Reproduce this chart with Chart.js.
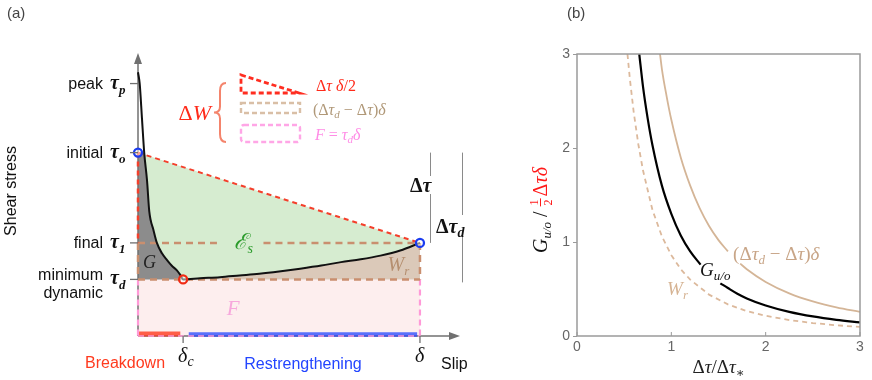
<!DOCTYPE html>
<html>
<head>
<meta charset="utf-8">
<title>Slip-weakening energy budget</title>
<script src="https://cdn.jsdelivr.net/npm/chart.js@4.4.1/dist/chart.umd.min.js"></script>
<style>
  body { margin: 0; background: #fff; }
  #panelA { position: absolute; left: 0; top: 0; }
  #panelB { position: absolute; left: 520px; top: 0; }
</style>
</head>
<body>
<canvas id="panelA" width="520" height="380"></canvas>
<canvas id="panelB" width="352" height="380"></canvas>
<script>
const SANS = '"Liberation Sans", Arial, sans-serif';
const SERIF = '"Liberation Serif", "DejaVu Serif", serif';

// ----------------------------
// (a) shear stress vs slip
// ----------------------------
const slipCurve   = [0, 0.006, 0.014, 0.022, 0.032, 0.040, 0.055, 0.067, 0.085, 0.103, 0.12, 0.138, 0.15, 0.16,
                     0.22, 0.29, 0.36, 0.43, 0.50, 0.575, 0.65, 0.72, 0.79, 0.86, 0.93, 1.0];
const stressCurve = [4.66, 4.46, 3.85, 3.24, 2.75, 2.20, 1.87, 1.645, 1.46, 1.34, 1.24, 1.16, 1.08, 1.0,
                     1.02, 1.04, 1.07, 1.10, 1.14, 1.19, 1.245, 1.305, 1.355, 1.42, 1.51, 1.645];
const stressTicks = [4.46, 3.24, 1.645, 1.0];            // tau_p, tau_o, tau_1, tau_d
const stressTickWords = [['peak'], ['initial'], ['final'], ['minimum', 'dynamic']];
const stressTickSubs = ['p', 'o', '1', 'd'];
const slipTicks = [0.16, 1.0];                            // delta_c, delta
const slipTickSubs = ['c', ''];
const tau1Gap = [0.28, 0.445];                            // where the E_s label cuts the tau_1 dashes

// ----------------------------
// (b) normalised energies vs stress drop ratio
// ----------------------------
const ratioTicks = [0, 1, 2, 3];
const guoX = [0.66, 0.7, 0.75, 0.8, 0.9, 1.0, 1.1, 1.2, 1.31, null, 1.52, 1.6, 1.7, 1.8, 2.0, 2.25, 2.5, 2.75, 3.0];
const guoY = [3.0, 2.65, 2.31, 2.03, 1.60, 1.30, 1.07, 0.90, 0.76, null, 0.56, 0.51, 0.45, 0.40, 0.325, 0.257, 0.208, 0.172, 0.145];
const dropX = [0.88, 0.9, 0.95, 1.0, 1.1, 1.2, 1.3, 1.4, 1.5, 1.6, null, 1.73, 1.8, 2.0, 2.25, 2.5, 2.75, 3.0];
const dropY = [3.0, 2.84, 2.55, 2.30, 1.90, 1.60, 1.36, 1.17, 1.02, 0.90, null, 0.77, 0.71, 0.575, 0.454, 0.368, 0.304, 0.256];
const wrX = [0.535, 0.56, 0.6, 0.65, 0.7, 0.8, 0.9, 1.0, 1.1, 1.2, 1.4, 1.6, 1.8, 2.0, 2.25, 2.5, 2.75, 3.0];
const wrY = [3.0, 2.74, 2.39, 2.04, 1.76, 1.34, 1.06, 0.86, 0.71, 0.60, 0.44, 0.336, 0.265, 0.215, 0.17, 0.138, 0.114, 0.096];

const RED = '#f43f2b', TAN = '#c98f6f', PINK = '#ff9ad8', AXIS = '#707070';
const BLUE_PT = '#1b3cf0', BREAK = '#ff3a1e', RESTR = '#2345ff';

const pt = (x, y) => ({ x, y });

function drawRuns(ctx, parts, x, y, align) {
  let w = 0;
  parts.forEach(p => { ctx.font = p[1]; w += ctx.measureText(p[0]).width; });
  let cx = align === 'right' ? x - w : align === 'center' ? x - w / 2 : x;
  ctx.textAlign = 'left';
  ctx.textBaseline = 'alphabetic';
  parts.forEach(p => {
    ctx.font = p[1];
    ctx.fillStyle = p[2];
    ctx.fillText(p[0], cx, y + (p[3] || 0));
    cx += ctx.measureText(p[0]).width;
  });
  return cx;
}

function seg(ctx, x1, y1, x2, y2) {
  ctx.beginPath(); ctx.moveTo(x1, y1); ctx.lineTo(x2, y2); ctx.stroke();
}

// ---------- panel (a) datasets ----------
const tauP = stressTicks[0], tauO = stressTicks[1], tau1 = stressTicks[2], tauD = stressTicks[3];
const deltaC = slipTicks[0], delta = slipTicks[1];
const curvePts = slipCurve.map((s, i) => pt(s, stressCurve[i]));
const iO = stressCurve.indexOf(tauO);
const iC = slipCurve.indexOf(deltaC);

const polyF = [pt(0, 0), pt(delta, 0), pt(delta, tauD), pt(0, tauD)];
const polyW = [...curvePts.slice(iC), pt(delta, tauD)];
const polyE = [...curvePts.slice(iO), pt(0, tauO)];
const polyG = [pt(0, tauO), ...curvePts.slice(iO, iC + 1), pt(0, tauD)];

const lineSet = (data, color, width, dash, order) => ({
  data, showLine: true, borderColor: color, borderWidth: width, borderDash: dash || [],
  pointRadius: 0, fill: false, order, clip: false, tension: 0, spanGaps: false
});
const areaSet = (data, color, order) => ({
  data, showLine: true, fill: 'shape', backgroundColor: color,
  borderColor: 'rgba(0,0,0,0)', borderWidth: 0, pointRadius: 0, order
});

const annotateA = {
  id: 'annotateA',
  afterDraw(chart) {
    const ctx = chart.ctx, xs = chart.scales.x, ys = chart.scales.y;
    const X = v => xs.getPixelForValue(v), Y = v => ys.getPixelForValue(v);
    ctx.save();

    // arrow heads
    ctx.fillStyle = AXIS;
    ctx.beginPath();
    ctx.moveTo(X(0), ys.top); ctx.lineTo(X(0) - 4, ys.top + 11); ctx.lineTo(X(0) + 4, ys.top + 11);
    ctx.closePath(); ctx.fill();
    ctx.beginPath();
    ctx.moveTo(xs.right, Y(0)); ctx.lineTo(xs.right - 11, Y(0) - 4); ctx.lineTo(xs.right - 11, Y(0) + 4);
    ctx.closePath(); ctx.fill();

    // tick marks
    ctx.strokeStyle = AXIS; ctx.lineWidth = 1.3;
    stressTicks.forEach(v => seg(ctx, X(0) - 8, Y(v), X(0), Y(v)));
    slipTicks.forEach(v => seg(ctx, X(v), Y(0), X(v), Y(0) + 7));

    // stress tick labels
    stressTicks.forEach((v, i) => {
      const py = Y(v), words = stressTickWords[i];
      ctx.font = '16px ' + SANS; ctx.fillStyle = '#111'; ctx.textAlign = 'right'; ctx.textBaseline = 'alphabetic';
      if (words.length === 1) ctx.fillText(words[0], 103, py + 5);
      else { ctx.fillText(words[0], 103, py + 1); ctx.fillText(words[1], 103, py + 19); }
      drawRuns(ctx, [['τ', 'italic bold 20px ' + SERIF, '#111', 0],
                     [stressTickSubs[i], 'italic bold 13px ' + SERIF, '#111', 5]], 110, py + 5, 'left');
    });

    // slip tick labels
    slipTicks.forEach((v, i) => {
      drawRuns(ctx, [['δ', 'italic 20px ' + SERIF, '#111', 0],
                     [slipTickSubs[i], 'italic 14px ' + SERIF, '#111', 4]], X(v) - 5, 362, 'left');
    });
    ctx.font = '16px ' + SANS; ctx.textAlign = 'center';
    ctx.fillStyle = BREAK; ctx.fillText('Breakdown', 125, 368);
    ctx.fillStyle = RESTR; ctx.fillText('Restrengthening', 303, 369);
    ctx.fillStyle = '#111'; ctx.textAlign = 'left'; ctx.fillText('Slip', 441, 369);

    ctx.save();
    ctx.translate(12, 191); ctx.rotate(-Math.PI / 2);
    ctx.textAlign = 'center'; ctx.textBaseline = 'middle'; ctx.fillStyle = '#111';
    ctx.fillText('Shear stress', 0, 0);
    ctx.restore();

    ctx.font = '15px ' + SANS; ctx.fillStyle = '#444'; ctx.textAlign = 'left'; ctx.textBaseline = 'alphabetic';
    ctx.fillText('(a)', 7, 18);

    // area labels
    drawRuns(ctx, [['G', 'italic 18px ' + SERIF, '#222', 0]], X(0.018), Y(tauD) - 11, 'left');
    drawRuns(ctx, [['ℰ', 'italic 22px ' + SERIF, '#2b9b2b', 0], ['s', 'italic 14px ' + SERIF, '#2b9b2b', 4]],
             X(0.342), Y(tau1) + 6, 'left');
    drawRuns(ctx, [['F', 'italic 21px ' + SERIF, '#f7a8dc', 0]], X(0.315), Y(tauD) + 36, 'left');
    drawRuns(ctx, [['W', 'italic 20px ' + SERIF, '#b58f70', 0], ['r', 'italic 13px ' + SERIF, '#b58f70', 4]],
             X(0.885), Y(tauD) - 8, 'left');

    // stress drop brackets
    ctx.strokeStyle = '#8a8a8a'; ctx.lineWidth = 1;
    seg(ctx, 430.5, Y(tauO), 430.5, 176); seg(ctx, 430.5, 194, 430.5, Y(tau1));
    seg(ctx, 462.5, Y(tauO), 462.5, 215); seg(ctx, 462.5, 237, 462.5, Y(tauD) + 3);
    drawRuns(ctx, [['Δ', 'bold 20px ' + SERIF, '#111', 0], ['τ', 'italic bold 20px ' + SERIF, '#111', 0]], 410, 192, 'left');
    drawRuns(ctx, [['Δ', 'bold 20px ' + SERIF, '#111', 0], ['τ', 'italic bold 20px ' + SERIF, '#111', 0],
                   ['d', 'italic bold 14px ' + SERIF, '#111', 4]], 436, 233, 'left');

    // energy key
    drawRuns(ctx, [['Δ', '22px ' + SERIF, '#ff2a1a', 0], ['W', 'italic 22px ' + SERIF, '#ff2a1a', 0]], 211, 120, 'right');
    ctx.strokeStyle = '#f4846c'; ctx.lineWidth = 2; ctx.setLineDash([]);
    const bx = 220, bt = 83, bb = 142, bm = (bt + bb) / 2;
    ctx.beginPath();
    ctx.moveTo(bx + 6, bt); ctx.quadraticCurveTo(bx, bt, bx, bt + 8);
    ctx.lineTo(bx, bm - 6); ctx.quadraticCurveTo(bx, bm, bx - 6, bm);
    ctx.quadraticCurveTo(bx, bm, bx, bm + 6); ctx.lineTo(bx, bb - 8);
    ctx.quadraticCurveTo(bx, bb, bx + 6, bb);
    ctx.stroke();

    ctx.lineWidth = 2.8; ctx.strokeStyle = '#ff2d20'; ctx.setLineDash([5, 3]);
    ctx.beginPath(); ctx.moveTo(241, 75); ctx.lineTo(299, 93); ctx.lineTo(241, 93); ctx.closePath(); ctx.stroke();
    ctx.lineWidth = 2.4; ctx.strokeStyle = '#d9bfa6';
    ctx.strokeRect(241, 103, 59, 10);
    ctx.strokeStyle = '#ffa6e6';
    ctx.beginPath(); ctx.roundRect(241, 125, 59, 17, 3); ctx.stroke();
    ctx.setLineDash([]);

    const kRed = '#ff2a1a', kTan = '#b09878', kPink = '#ff8ce6';
    drawRuns(ctx, [['Δ', '16px ' + SERIF, kRed], ['τ', 'italic 16px ' + SERIF, kRed], [' δ', 'italic 16px ' + SERIF, kRed],
                   ['/2', '16px ' + SERIF, kRed]], 316, 91, 'left');
    drawRuns(ctx, [['(Δ', '16px ' + SERIF, kTan], ['τ', 'italic 16px ' + SERIF, kTan], ['d', 'italic 11px ' + SERIF, kTan, 3],
                   [' − Δ', '16px ' + SERIF, kTan], ['τ', 'italic 16px ' + SERIF, kTan], [')', '16px ' + SERIF, kTan],
                   ['δ', 'italic 16px ' + SERIF, kTan]], 313, 115, 'left');
    drawRuns(ctx, [['F', 'italic 16px ' + SERIF, kPink], [' = ', '16px ' + SERIF, kPink], ['τ', 'italic 16px ' + SERIF, kPink],
                   ['d', 'italic 11px ' + SERIF, kPink, 3], ['δ', 'italic 16px ' + SERIF, kPink]], 315, 140, 'left');
    ctx.restore();
  }
};

new Chart(document.getElementById('panelA'), {
  type: 'scatter',
  data: {
    datasets: [
      areaSet(polyF, '#fdeeee', 30),
      areaSet(polyW, '#dbc9b9', 29),
      areaSet(polyE, '#d6ecd0', 28),
      areaSet(polyG, '#8c8c8c', 27),
      lineSet([pt(0, 0), pt(0, 4.85)], AXIS, 1.5, null, 20),
      lineSet([pt(0, 0), pt(1.12, 0)], AXIS, 1.5, null, 20),
      lineSet([pt(0, 0.035), pt(deltaC - 0.01, 0.035)], 'rgba(255,58,30,0.8)', 5, null, 18),
      lineSet([pt(deltaC + 0.02, 0.025), pt(delta - 0.01, 0.025)], 'rgba(35,69,255,0.75)', 4.5, null, 18),
      lineSet([pt(0, tauO), pt(delta, tau1)], RED, 2, [5, 4], 10),
      lineSet([pt(0, tauO), pt(0, tau1)], RED, 2.5, [5, 4], 10),
      lineSet([pt(0, tau1), pt(tau1Gap[0], tau1), { x: 0.36, y: null }, pt(tau1Gap[1], tau1), pt(delta, tau1)], TAN, 2.5, [7, 5], 10),
      lineSet([pt(0, tauD), pt(delta, tauD)], TAN, 2.5, [7, 5], 10),
      lineSet([pt(0, tau1), pt(0, tauD)], TAN, 2.5, [7, 5], 10),
      lineSet([pt(delta, tau1), pt(delta, tauD)], TAN, 2.5, [7, 5], 10),
      lineSet([pt(0, tauD), pt(0, 0)], PINK, 2.2, [6, 4], 10),
      lineSet([pt(delta, tauD), pt(delta, 0)], PINK, 2.2, [6, 4], 10),
      lineSet([pt(0, 0), pt(delta, 0)], PINK, 1.5, [6, 4], 11),
      Object.assign(lineSet(curvePts, '#111', 2, null, 3), { cubicInterpolationMode: 'monotone' }),
      { data: [pt(0, tauO), pt(delta, tau1)], showLine: false, pointRadius: 4, pointBorderWidth: 2.3,
        pointBorderColor: BLUE_PT, pointBackgroundColor: 'rgba(255,255,255,0.5)', order: 1, clip: false },
      { data: [pt(deltaC, tauD)], showLine: false, pointRadius: 4, pointBorderWidth: 2.3,
        pointBorderColor: '#f02a14', pointBackgroundColor: 'rgba(255,255,255,0.5)', order: 1, clip: false }
    ]
  },
  options: {
    responsive: false, animation: false, devicePixelRatio: 1, events: [],
    layout: { padding: { left: 138, right: 60, top: 53, bottom: 44 } },
    scales: {
      x: { type: 'linear', min: 0, max: 1.142, display: false },
      y: { type: 'linear', min: 0, max: 5, display: false }
    },
    plugins: { legend: { display: false }, tooltip: { enabled: false } }
  },
  plugins: [annotateA]
});

// ---------- panel (b) ----------
const toPts = (xs, ys) => xs.map((v, i) => ({ x: v === null ? (xs[i - 1] + xs[i + 1]) / 2 : v, y: ys[i] }));

const annotateB = {
  id: 'annotateB',
  afterDraw(chart) {
    const { ctx, chartArea: a } = chart, xs = chart.scales.x, ys = chart.scales.y;
    const X = v => xs.getPixelForValue(v), Y = v => ys.getPixelForValue(v);
    ctx.save();
    ctx.strokeStyle = '#9a9a9a'; ctx.lineWidth = 1.5;
    ctx.strokeRect(a.left, a.top, a.right - a.left, a.bottom - a.top);
    ctx.lineWidth = 1;
    ratioTicks.forEach(v => seg(ctx, X(v), a.bottom, X(v), a.bottom - 4));

    const tanTxt = '#c8a587', tanW = '#d6b494';
    drawRuns(ctx, [['G', 'italic 19px ' + SERIF, '#111'], ['u/o', 'italic 13px ' + SERIF, '#111', 4]], X(1.305), Y(0.64), 'left');
    drawRuns(ctx, [['(Δ', '19px ' + SERIF, tanTxt], ['τ', 'italic 19px ' + SERIF, tanTxt], ['d', 'italic 13px ' + SERIF, tanTxt, 4],
                   [' − Δ', '19px ' + SERIF, tanTxt], ['τ', 'italic 19px ' + SERIF, tanTxt], [')', '19px ' + SERIF, tanTxt],
                   ['δ', 'italic 19px ' + SERIF, tanTxt]], X(1.655), Y(0.81), 'left');
    drawRuns(ctx, [['W', 'italic 19px ' + SERIF, tanW], ['r', 'italic 13px ' + SERIF, tanW, 4]], X(0.955), Y(0.436), 'left');

    // x title
    drawRuns(ctx, [['Δ', '19px ' + SERIF, '#222'], ['τ', 'italic 19px ' + SERIF, '#222'], ['/Δ', '19px ' + SERIF, '#222'],
                   ['τ', 'italic 19px ' + SERIF, '#222'], ['∗', '13px ' + SERIF, '#222', 4]], X(1.5), 373, 'center');

    // y title, rotated
    ctx.save();
    ctx.translate(27, 199); ctx.rotate(-Math.PI / 2);
    const red = '#ff1a1a';
    let cx = drawRuns(ctx, [['G', 'italic 20px ' + SERIF, '#111'], ['u/o', 'italic 13px ' + SERIF, '#111', 4],
                            [' / ', '20px ' + SERIF, '#111']], -54, 0, 'left');
    ctx.font = '12px ' + SERIF; ctx.fillStyle = red; ctx.textAlign = 'center';
    ctx.fillText('1', cx + 4, -9); ctx.fillText('2', cx + 4, 5);
    ctx.strokeStyle = red; ctx.lineWidth = 1; seg(ctx, cx, -6.5, cx + 8, -6.5);
    drawRuns(ctx, [['Δ', '20px ' + SERIF, red], ['τ', 'italic 20px ' + SERIF, red], ['δ', 'italic 20px ' + SERIF, red]], cx + 10, 0, 'left');
    ctx.restore();

    ctx.font = '15px ' + SANS; ctx.fillStyle = '#444'; ctx.textAlign = 'left'; ctx.textBaseline = 'alphabetic';
    ctx.fillText('(b)', 47, 18);
    ctx.restore();
  }
};

const tickStyle = { stepSize: 1, color: '#666', font: { size: 14, family: SANS }, padding: 3 };

new Chart(document.getElementById('panelB'), {
  type: 'scatter',
  data: {
    datasets: [
      { data: toPts(wrX, wrY), showLine: true, borderColor: '#dcb99c', borderWidth: 1.8, borderDash: [5, 4], pointRadius: 0, spanGaps: false },
      { data: toPts(dropX, dropY), showLine: true, borderColor: '#d4b597', borderWidth: 1.8, pointRadius: 0, spanGaps: false, cubicInterpolationMode: 'monotone' },
      { data: toPts(guoX, guoY), showLine: true, borderColor: '#000', borderWidth: 2.2, pointRadius: 0, spanGaps: false, cubicInterpolationMode: 'monotone' }
    ]
  },
  options: {
    responsive: false, animation: false, devicePixelRatio: 1, events: [],
    layout: { padding: { left: 0, right: 12, top: 54, bottom: 0 } },
    scales: {
      x: { type: 'linear', min: 0, max: 3, ticks: tickStyle,
           grid: { display: false, drawTicks: false }, border: { display: false },
           afterFit(s) { s.height = 44; } },
      y: { type: 'linear', min: 0, max: 3, ticks: tickStyle,
           grid: { drawOnChartArea: false, tickLength: 4, color: '#9a9a9a' }, border: { display: false },
           afterFit(s) { s.width = 57; } }
    },
    plugins: { legend: { display: false }, tooltip: { enabled: false } }
  },
  plugins: [annotateB]
});
</script>
</body>
</html>
